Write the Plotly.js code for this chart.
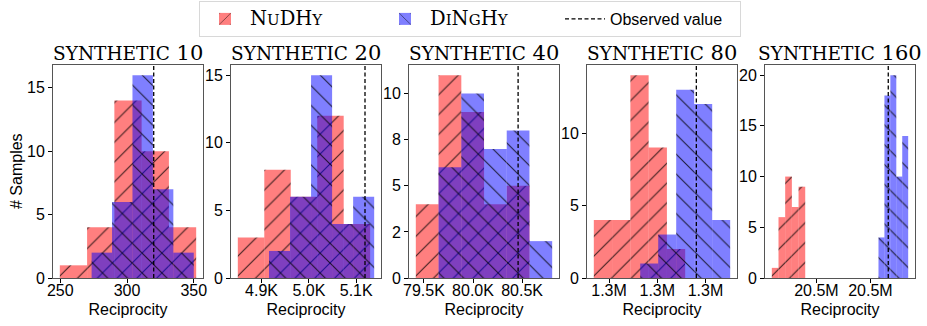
<!DOCTYPE html>
<html><head><meta charset="utf-8">
<script src="https://cdn.plot.ly/plotly-3.0.1.min.js"></script>
<style>body{margin:0;background:#fff}</style>
</head><body>
<div id="chart" style="width:927px;height:326px"></div>
<script>
// ---- data ----
const panelNames = ['10', '20', '40', '80', '160'];

// NuDHy histograms: bin range [first edge, last edge] and counts
const nudhyRange10 = [249.7, 351.8];
const nudhyRange20 = [4850, 5129.5];
const nudhyRange40 = [79417.5, 80575.6];
const nudhyRange80 = [1298684, 1300579];
const nudhyRange160 = [20486750, 20492937.5];
const nudhyCounts10 = [1, 4, 14, 10, 4];
const nudhyCounts20 = [3, 8, 6, 12, 4];
const nudhyCounts40 = [4, 11, 9, 4, 5];
const nudhyCounts80 = [4, 4, 14, 9, 2];
const nudhyCounts160 = [1, 6, 10, 7, 9];

// DiNgHy histograms
const dinghyRange10 = [273.5, 350.0];
const dinghyRange20 = [4915.8, 5138];
const dinghyRange40 = [79649, 80806];
const dinghyRange80 = [1299646, 1301512];
const dinghyRange160 = [20506500, 20512000];
const dinghyCounts10 = [2, 6, 16, 7, 2];
const dinghyCounts20 = [2, 6, 15, 4, 6];
const dinghyCounts40 = [6, 10, 7, 8, 2];
const dinghyCounts80 = [1, 3, 13, 12, 4];
const dinghyCounts160 = [4, 18, 20, 10, 14];

// observed reciprocity
const observedValues = [320, 5118.6, 80459, 1300810, 20508312];

// tick values / labels
const xTickVals10 = [250, 300, 350];
const xTickText10 = ['250', '300', '350'];
const xTickVals20 = [4900, 5000, 5100];
const xTickText20 = ['4.9K', '5.0K', '5.1K'];
const xTickVals40 = [79500, 80000, 80500];
const xTickText40 = ['79.5K', '80.0K', '80.5K'];
const xTickVals80 = [1299000, 1300000, 1301000];
const xTickText80 = ['1.3M', '1.3M', '1.3M'];
const xTickVals160 = [20495000, 20505000];
const xTickText160 = ['20.5M', '20.5M'];
const yTickVals10 = [0, 5, 10, 15];
const yTickVals20 = [0, 5, 10, 15];
const yTickVals40 = [0, 2.5, 5, 7.5, 10];
const yTickText40 = ['0', '2', '5', '8', '10'];
const yTickVals80 = [0, 5, 10];
const yTickVals160 = [0, 5, 10, 15, 20];

// ---- assembly ----
const nudhyRanges = [nudhyRange10, nudhyRange20, nudhyRange40, nudhyRange80, nudhyRange160];
const nudhyCounts = [nudhyCounts10, nudhyCounts20, nudhyCounts40, nudhyCounts80, nudhyCounts160];
const dinghyRanges = [dinghyRange10, dinghyRange20, dinghyRange40, dinghyRange80, dinghyRange160];
const dinghyCounts = [dinghyCounts10, dinghyCounts20, dinghyCounts40, dinghyCounts80, dinghyCounts160];
const xTickVals = [xTickVals10, xTickVals20, xTickVals40, xTickVals80, xTickVals160];
const xTickText = [xTickText10, xTickText20, xTickText40, xTickText80, xTickText160];
const yTickVals = [yTickVals10, yTickVals20, yTickVals40, yTickVals80, yTickVals160];
const yTickText = [yTickVals10.map(String), yTickVals20.map(String), yTickText40, yTickVals80.map(String), yTickVals160.map(String)];

const SERIF = 'DejaVu Serif';
const SANS = 'Liberation Sans';
function sc(parts, bigSize, smallSize) {
  return parts.map(([t, b]) => `<span style="font-family:${SERIF};font-size:${b ? bigSize : smallSize}px">${t}</span>`).join('');
}
const nudhyName = sc([['N', 1], ['U', 0], ['DH', 1], ['Y', 0]], 19.5, 15);
const dinghyName = sc([['D', 1], ['I', 0], ['N', 1], ['G', 0], ['H', 1], ['Y', 0]], 19.5, 15);

function bins(range, counts) {
  const w = (range[1] - range[0]) / counts.length;
  return { x: counts.map((_, i) => range[0] + (i + 0.5) * w), width: counts.map(() => w) };
}

const pageW = 927, pageH = 326;
const mL = 53, mR = 12, mT = 65, mB = 48;
const paperW = pageW - mL - mR;
const plotLefts = [53, 231, 409, 587, 765];
const plotW = 150;

const traces = [];
const layout = {
  width: pageW, height: pageH,
  margin: { l: mL, r: mR, t: mT, b: mB, pad: 0, autoexpand: false },
  paper_bgcolor: '#fff', plot_bgcolor: '#fff',
  barmode: 'overlay',
  showlegend: true,
  font: { family: SANS, size: 16, color: '#000' },
  legend: {
    orientation: 'h', xref: 'container', yref: 'container',
    x: 470 / pageW, xanchor: 'center',
    y: 1 - 1 / pageH, yanchor: 'top',
    bordercolor: '#d8d8d8', borderwidth: 1, bgcolor: '#fff',
    font: { family: SANS, size: 16, color: '#000' },
    entrywidth: 125, entrywidthmode: 'pixels', itemwidth: 40,
    traceorder: 'normal'
  },
  annotations: [{
    xref: 'paper', yref: 'paper', x: (16.5 - mL) / paperW, y: 0.5,
    xanchor: 'center', yanchor: 'middle', textangle: -90, showarrow: false,
    text: '# Samples', font: { family: SANS, size: 16, color: '#000' }
  }],
  shapes: []
};

for (let p = 0; p < 5; p++) {
  const sfx = p === 0 ? '' : String(p + 1);
  const xa = 'x' + sfx, ya = 'y' + sfx;
  const nb = bins(nudhyRanges[p], nudhyCounts[p]);
  const db = bins(dinghyRanges[p], dinghyCounts[p]);
  const ymax = Math.max(...nudhyCounts[p], ...dinghyCounts[p]);
  const ytop = ymax * 1.05;
  const lo = Math.min(nudhyRanges[p][0], dinghyRanges[p][0]);
  const hi = Math.max(nudhyRanges[p][1], dinghyRanges[p][1]);
  const pad = (hi - lo) * 0.05;

  traces.push({
    type: 'bar', name: nudhyName, legendgroup: 'n', showlegend: p === 0,
    x: nb.x, width: nb.width, y: nudhyCounts[p], xaxis: xa, yaxis: ya,
    marker: { color: 'rgba(255,0,0,0.5)', line: { width: 0 },
      pattern: { shape: '/', fgcolor: 'rgba(0,0,0,0.75)', bgcolor: 'rgba(255,0,0,0.5)', size: 14, solidity: 0.08 } },
    hoverinfo: 'skip'
  });
  traces.push({
    type: 'bar', name: dinghyName, legendgroup: 'd', showlegend: p === 0,
    x: db.x, width: db.width, y: dinghyCounts[p], xaxis: xa, yaxis: ya,
    marker: { color: 'rgba(0,0,255,0.5)', line: { width: 0 },
      pattern: { shape: '\\', fgcolor: 'rgba(0,0,0,0.75)', bgcolor: 'rgba(0,0,255,0.5)', size: 14, solidity: 0.08 } },
    hoverinfo: 'skip'
  });
  traces.push({
    type: 'scatter', mode: 'lines', name: 'Observed value', legendgroup: 'o', showlegend: p === 0,
    x: [observedValues[p], observedValues[p]], y: [0, ytop], xaxis: xa, yaxis: ya,
    line: { color: '#000', width: 1.3, dash: '4px,2.5px' }, hoverinfo: 'skip'
  });

  const d0 = (plotLefts[p] - mL) / paperW;
  const d1 = Math.min(1, (plotLefts[p] + plotW - mL) / paperW);
  layout['xaxis' + sfx] = {
    domain: [d0, d1], anchor: ya, range: [lo - pad, hi + pad],
    tickmode: 'array', tickvals: xTickVals[p], ticktext: xTickText[p], tickangle: 0,
    ticks: 'outside', ticklen: 4, tickwidth: 1, tickcolor: '#000', ticklabelstandoff: -6,
    showline: true, mirror: true, linecolor: '#555', linewidth: 1,
    showgrid: false, zeroline: false, fixedrange: true,
    tickfont: { family: SANS, size: 16, color: '#000' },
    title: { text: 'Reciprocity', font: { family: SANS, size: 16, color: '#000' }, standoff: 5 },
    automargin: false
  };
  layout['yaxis' + sfx] = {
    domain: [0, 1], anchor: xa, range: [0, ytop],
    tickmode: 'array', tickvals: yTickVals[p], ticktext: yTickText[p],
    ticks: 'outside', ticklen: 4, tickwidth: 1, tickcolor: '#000',
    showline: true, mirror: true, linecolor: '#555', linewidth: 1,
    showgrid: false, zeroline: false, fixedrange: true,
    tickfont: { family: SANS, size: 16, color: '#000' },
    automargin: false
  };
  layout.annotations.push({
    xref: 'paper', yref: 'paper', x: (d0 + d1) / 2, y: 1, xanchor: 'center', yanchor: 'bottom',
    yshift: -2, showarrow: false,
    text: `<span style="font-size:18.5px">SYNTHETIC</span> ${panelNames[p]}`,
    font: { family: SERIF, size: 21, color: '#000' }
  });
}

Plotly.newPlot('chart', traces, layout, { staticPlot: true, displayModeBar: false });
</script>
</body></html>
